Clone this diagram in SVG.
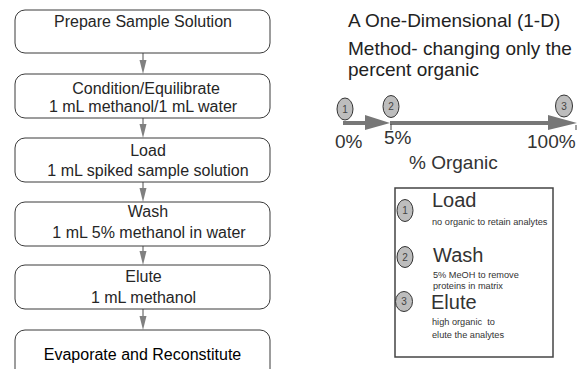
<svg xmlns="http://www.w3.org/2000/svg" width="581" height="369" viewBox="0 0 581 369">
<style>
text{font-family:"Liberation Sans",Arial,sans-serif;fill:#262626}
.bt{font-size:16px;text-anchor:middle}
.box{fill:#fff;stroke:#3a3a3a;stroke-width:1}
.con{stroke:#8a8a8a;stroke-width:1.5;fill:none}
.ah{fill:#808080}
.hd{font-size:19px;fill:#222}
.ax{font-size:19px;fill:#333}
.num{font-size:10px;text-anchor:middle;fill:#444}
.dot{fill:#bdbdbd;stroke:#333;stroke-width:1}
.lt{font-size:20px;fill:#333}
.st{font-size:9.2px;fill:#333}
</style>
<rect width="581" height="369" fill="#fff"/>
<g id="connectors">
<line class="con" x1="143" y1="53" x2="143" y2="62"/><polygon class="ah" points="139.5,60 146.5,60 143,74"/>
<line class="con" x1="143" y1="118" x2="143" y2="126"/><polygon class="ah" points="139.5,124 146.5,124 143,138"/>
<line class="con" x1="143" y1="182" x2="143" y2="190"/><polygon class="ah" points="139.5,188 146.5,188 143,202"/>
<line class="con" x1="143" y1="246" x2="143" y2="253"/><polygon class="ah" points="139.5,251 146.5,251 143,265"/>
<line class="con" x1="143" y1="309" x2="143" y2="318"/><polygon class="ah" points="139.5,316 146.5,316 143,330"/>
</g>
<g id="n1"><rect class="box" x="15" y="10" width="255" height="43" rx="10"/><text class="bt" x="143" y="27">Prepare Sample Solution</text></g>
<g id="n2"><rect class="box" x="15" y="74" width="255" height="44" rx="10"/><text class="bt" x="146" y="94">Condition/Equilibrate</text><text class="bt" x="143" y="112">1 mL methanol/1 mL water</text></g>
<g id="n3"><rect class="box" x="15" y="138" width="255" height="44" rx="10"/><text class="bt" x="148" y="156">Load</text><text class="bt" x="148" y="176">1 mL spiked sample solution</text></g>
<g id="n4"><rect class="box" x="15" y="202" width="255" height="44" rx="10"/><text class="bt" x="148" y="217">Wash</text><text class="bt" x="149" y="238">1 mL 5% methanol in water</text></g>
<g id="n5"><rect class="box" x="15" y="265" width="255" height="44" rx="10"/><text class="bt" x="143.5" y="282">Elute</text><text class="bt" x="143.5" y="303">1 mL methanol</text></g>
<g id="n6"><rect class="box" x="15" y="330" width="255" height="50" rx="10"/><text class="bt" x="142.5" y="360" style="fill:#000">Evaporate and Reconstitute</text></g>
<g id="header">
<text class="hd" x="348" y="27">A One-Dimensional (1-D)</text>
<text class="hd" x="348" y="55">Method- changing only the</text>
<text class="hd" x="348" y="76">percent organic</text>
</g>
<g id="axis">
<line x1="343" y1="123" x2="368" y2="123" stroke="#777" stroke-width="4"/>
<polygon points="365,115 390,123 365,130" fill="#777"/>
<line x1="390" y1="123" x2="551" y2="123" stroke="#777" stroke-width="4"/>
<polygon points="548,115 577,123 548,130" fill="#777"/>
<line x1="391" y1="124" x2="391" y2="130" stroke="#444" stroke-width="1"/>
<line x1="576" y1="125" x2="576" y2="130" stroke="#444" stroke-width="1"/>
<text class="ax" x="335" y="148">0%</text>
<text class="ax" x="384" y="144">5%</text>
<text class="ax" x="527" y="148">100%</text>
<text class="ax" x="409" y="169">% Organic</text>
</g>
<g id="a1"><ellipse class="dot" cx="345" cy="109" rx="8" ry="11"/><text class="num" x="345" y="113">1</text></g>
<g id="a2"><ellipse class="dot" cx="391" cy="106.5" rx="8" ry="11"/><text class="num" x="391" y="110">2</text></g>
<g id="a3"><ellipse class="dot" cx="564" cy="106" rx="8.5" ry="11"/><text class="num" x="564" y="110">3</text></g>
<g id="legend">
<rect x="395" y="188" width="158" height="169" fill="#fff" stroke="#444" stroke-width="1.5"/>
<ellipse class="dot" cx="405" cy="210.5" rx="8" ry="11"/><text class="num" x="405" y="214">1</text>
<text class="lt" x="432" y="207">Load</text>
<text class="st" x="432" y="225">no organic to retain analytes</text>
<ellipse class="dot" cx="405" cy="257" rx="8" ry="10.5"/><text class="num" x="405" y="261">2</text>
<text class="lt" x="433" y="262">Wash</text>
<text class="st" x="433" y="278">5% MeOH to remove</text>
<text class="st" x="433" y="289">proteins in matrix</text>
<ellipse class="dot" cx="404" cy="301.5" rx="8.5" ry="10"/><text class="num" x="404" y="305">3</text>
<text class="lt" x="431" y="309">Elute</text>
<text class="st" x="432" y="325" xml:space="preserve">high organic  to</text>
<text class="st" x="432" y="338">elute the analytes</text>
</g>
</svg>
